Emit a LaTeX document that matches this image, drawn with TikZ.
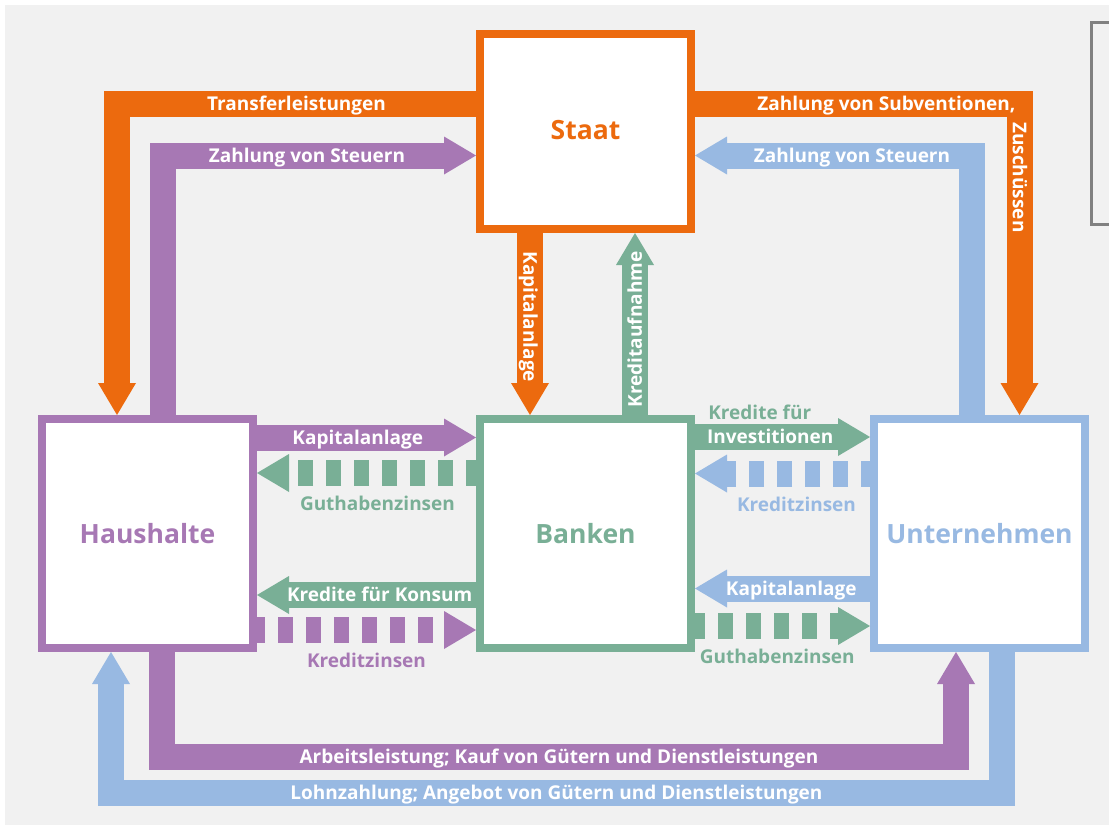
\documentclass[tikz,border=0pt]{standalone}
\usepackage{fontspec}
\setmainfont{Open Sans}
\usepackage{tikz}
\usetikzlibrary{positioning,arrows.meta}

\definecolor{stateorange}{RGB}{236,106,14}
\definecolor{hhpurple}{RGB}{167,120,180}
\definecolor{bankgreen}{RGB}{121,175,150}
\definecolor{firmblue}{RGB}{152,185,226}
\definecolor{panelgray}{RGB}{241,241,241}

\begin{document}
\begin{tikzpicture}[
  x=1pt, y=-1pt,
  sector/.style={draw, line width=8pt, fill=white, inner sep=0pt,
                 minimum width=211pt, minimum height=229pt,
                 font=\fontsize{26.5}{30}\selectfont\bfseries},
  flowarrow/.style={line width=26pt, line join=miter,
                    -{Triangle[width=38pt,length=32pt,line width=0pt]}},
  dashflow/.style={flowarrow, dash pattern=on 15pt off 13pt},
  bandtext/.style={text=white, inner sep=0pt, text height=13.5pt, text depth=0pt,
                   font=\fontsize{19}{21}\selectfont\bfseries},
  sidetext/.style={bandtext, yshift=-31pt}
]
% page, grey panel and the cut-off frame on the right
\fill[white] (0,0) rectangle (1109,827);
\fill[panelgray] (5,5) rectangle (1109,825);
\useasboundingbox (0,0) rectangle (1109,827);
\draw[gray, line width=3pt] (1091.5,22) rectangle (1140,224);

% the four sectors
\node[sector, draw=bankgreen, text=bankgreen] (banken) at (585.5,533.5) {Banken};
\node[sector, draw=hhpurple, text=hhpurple, left=219pt of banken] (haushalte) {Haushalte};
\node[sector, draw=firmblue, text=firmblue, right=175pt of banken] (unternehmen) {Unternehmen};
\node[sector, draw=stateorange, text=stateorange, minimum height=195pt,
      above=182pt of banken] (staat) {\raisebox{3pt}{Staat}};

% Staat <-> Haushalte / Unternehmen
\draw[flowarrow, stateorange] ([yshift=27.5pt]staat.west) -|
  node[bandtext, pos=.25] (lTransfer) {Transferleistungen}
  ([xshift=-30.5pt]haushalte.north);
\draw[flowarrow, hhpurple] ([xshift=15.5pt]haushalte.north) |-
  node[bandtext, pos=.73] (lTaxHH) {Zahlung von Steuern}
  ([yshift=-24pt]staat.west);
\draw[flowarrow, stateorange] ([yshift=27.5pt]staat.east) -|
  node[bandtext, pos=.295] (lSubv) {Zahlung von Subventionen,}
  node[bandtext, rotate=-90, pos=.618] (lZusch) {Zuschüssen}
  ([xshift=40pt]unternehmen.north);
\draw[flowarrow, firmblue] ([xshift=-8pt]unternehmen.north) |-
  node[bandtext, pos=.716] (lTaxUN) {Zahlung von Steuern}
  ([yshift=-24pt]staat.east);

% Staat <-> Banken
\draw[flowarrow, stateorange] ([xshift=-55.5pt]staat.south) --
  node[bandtext, rotate=-90, pos=.46] (lAnlSt) {Kapitalanlage}
  ([xshift=-55.5pt]banken.north);
\draw[flowarrow, bankgreen] ([xshift=49.5pt]banken.north) --
  node[bandtext, rotate=90, pos=.47] (lAufn) {Kreditaufnahme}
  ([xshift=49.5pt]staat.south);

% Haushalte <-> Banken
\draw[flowarrow, hhpurple] ([yshift=96pt]haushalte.east) --
  node[bandtext, pos=.46] (lAnlHH) {Kapitalanlage}
  ([yshift=96pt]banken.west);
\draw[dashflow, bankgreen, dash phase=5pt] ([yshift=60.5pt]banken.west) --
  node[sidetext, text=bankgreen, pos=.45] (lGutHH) {Guthabenzinsen}
  ([yshift=60.5pt]haushalte.east);
\draw[flowarrow, bankgreen] ([yshift=-61.5pt]banken.west) --
  node[bandtext, pos=.44] (lKonsum) {Kredite für Konsum}
  ([yshift=-61.5pt]haushalte.east);
\draw[dashflow, hhpurple, dash phase=7pt] ([yshift=-96.5pt]haushalte.east) --
  node[sidetext, text=hhpurple, pos=.5] (lZinsHH) {Kreditzinsen}
  ([yshift=-96.5pt]banken.west);

% Banken <-> Unternehmen
\draw[flowarrow, bankgreen] ([yshift=96.5pt]banken.east) --
  node[bandtext, pos=.43] (lInv) {Investitionen}
  node[bandtext, text=bankgreen, yshift=24pt, pos=.37] (lKrInv) {Kredite für}
  ([yshift=96.5pt]unternehmen.west);
\draw[dashflow, firmblue, dash phase=6pt] ([yshift=60pt]unternehmen.west) --
  node[sidetext, text=firmblue, pos=.42] (lZinsUN) {Kreditzinsen}
  ([yshift=60pt]banken.east);
\draw[flowarrow, firmblue] ([yshift=-55pt]unternehmen.west) --
  node[bandtext, pos=.45] (lAnlUN) {Kapitalanlage}
  ([yshift=-55pt]banken.east);
\draw[dashflow, bankgreen, dash phase=5pt] ([yshift=-92.5pt]banken.east) --
  node[sidetext, text=bankgreen, pos=.47] (lGutUN) {Guthabenzinsen}
  ([yshift=-92.5pt]unternehmen.west);

% Haushalte <-> Unternehmen
\draw[flowarrow, hhpurple] ([xshift=14.5pt]haushalte.south) -- ++(0,104.5) -|
  node[bandtext, pos=.25] (lArbeit) {Arbeitsleistung; Kauf von Gütern und Dienstleistungen}
  ([xshift=-23.5pt]unternehmen.south);
\draw[flowarrow, firmblue] ([xshift=22.5pt]unternehmen.south) -- ++(0,141) -|
  node[bandtext, pos=.25] (lLohn) {Lohnzahlung; Angebot von Gütern und Dienstleistungen}
  ([xshift=-36.5pt]haushalte.south);
\end{tikzpicture}
\end{document}
